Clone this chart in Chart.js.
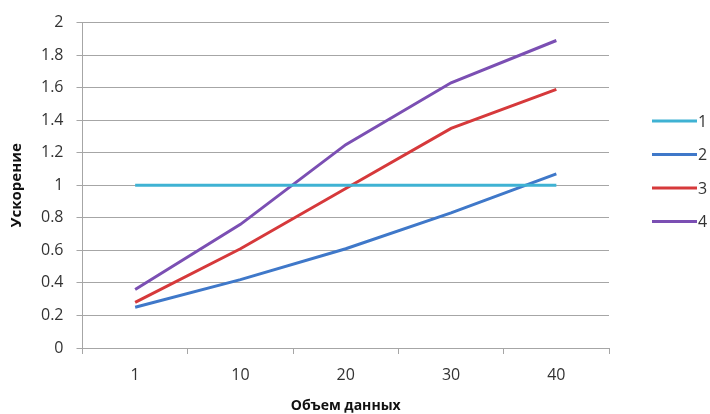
<!DOCTYPE html>
<html>
<head>
<meta charset="utf-8">
<script src="https://cdn.jsdelivr.net/npm/chart.js@4/dist/chart.umd.min.js"></script>
<style>
  html, body { margin: 0; padding: 0; background: #fff; }
  #wrap { width: 710px; height: 414px; }
</style>
</head>
<body>
<div id="wrap"><canvas id="speedup"></canvas></div>
<script>
// ================= DATA =================
const categories = ['1', '10', '20', '30', '40'];
const seriesNames = ['1', '2', '3', '4'];
const s1 = [1, 1, 1, 1, 1];
const s2 = [0.25, 0.42, 0.61, 0.83, 1.07];
const s3 = [0.28, 0.61, 0.98, 1.35, 1.59];
const s4 = [0.36, 0.76, 1.25, 1.63, 1.89];
const colors = ['#3fb2d3', '#3f78c9', '#d6393b', '#7b4fb3'];

const FONT = "'Open Sans', 'Liberation Sans', sans-serif";
const TXT = '#333333';
const GRID = '#a6a6a6';

// ================= LEGEND (right side) =================
const sideLegend = {
  id: 'sideLegend',
  afterDraw(chart) {
    const c = chart.ctx;
    c.save();
    chart.data.datasets.forEach((ds, i) => {
      const y = 121 + i * 33.5;
      c.strokeStyle = ds.borderColor;
      c.lineWidth = 3;
      c.beginPath();
      c.moveTo(652, y);
      c.lineTo(697, y);
      c.stroke();
      c.fillStyle = TXT;
      c.font = '16px ' + FONT;
      c.textBaseline = 'middle';
      c.fillText(ds.label, 698, y + 1);
    });
    c.restore();
  }
};

// ================= CHART =================
const sets = [s1, s2, s3, s4].map((d, i) => ({
  label: seriesNames[i],
  data: d,
  borderColor: colors[i],
  backgroundColor: colors[i],
  borderWidth: 3,
  pointRadius: 0,
  tension: 0,
  fill: false
}));

new Chart(document.getElementById('speedup'), {
  type: 'line',
  data: { labels: categories, datasets: sets },
  plugins: [sideLegend],
  options: {
    responsive: true,
    maintainAspectRatio: false,
    animation: false,
    layout: { padding: { top: 15, right: 101, bottom: 0, left: 8 } },
    plugins: {
      legend: { display: false },
      tooltip: { enabled: false }
    },
    scales: {
      x: {
        offset: true,
        grid: {
          offset: true,
          drawOnChartArea: false,
          drawTicks: true,
          tickLength: 6,
          color: GRID
        },
        border: { color: GRID, width: 1 },
        ticks: { color: TXT, font: { family: FONT, size: 16 }, padding: 12 },
        title: {
          display: true,
          text: 'Объем данных',
          color: '#111',
          font: { family: FONT, size: 14, weight: 'bold' },
          padding: { top: 0, bottom: 0 }
        }
      },
      y: {
        min: 0,
        max: 2,
        ticks: {
          stepSize: 0.2,
          color: TXT,
          font: { family: FONT, size: 16 },
          padding: 13,
          callback: v => String(Math.round(v * 10) / 10)
        },
        grid: { color: GRID, tickLength: 6 },
        border: { color: GRID, width: 1 },
        title: {
          display: true,
          text: 'Ускорение',
          color: '#111',
          font: { family: FONT, size: 15, weight: 'bold' },
          padding: { top: 0, bottom: 2 }
        }
      }
    }
  }
});
</script>
</body>
</html>
